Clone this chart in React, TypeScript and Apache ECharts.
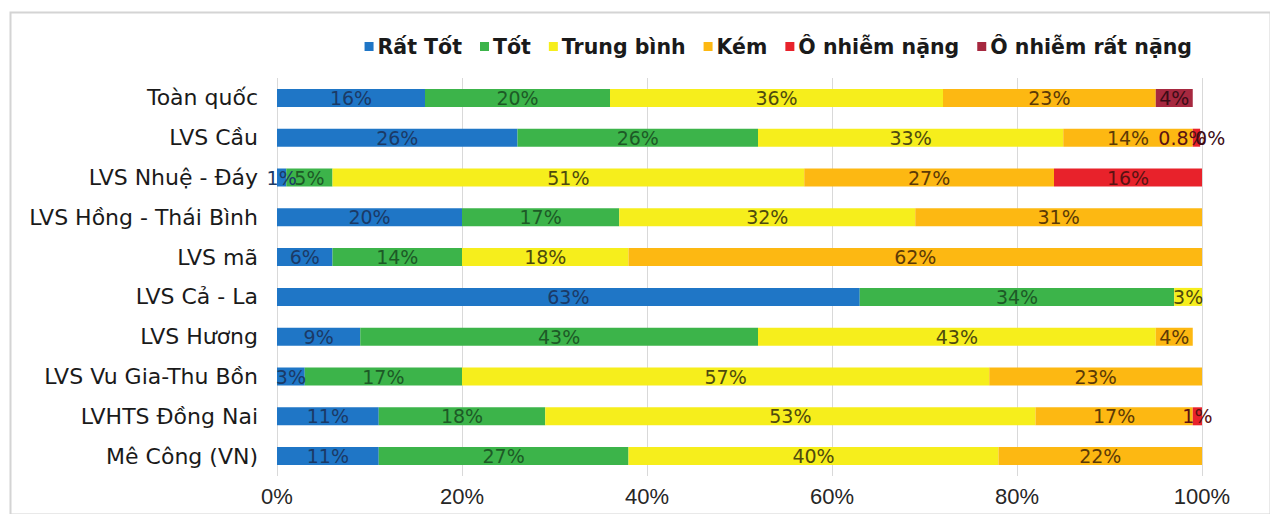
import React, { useEffect, useRef } from "react";
import * as echarts from "echarts";

const categories = [
  "Toàn quốc",
  "LVS Cầu",
  "LVS Nhuệ - Đáy",
  "LVS Hồng - Thái Bình",
  "LVS mã",
  "LVS Cả - La",
  "LVS Hương",
  "LVS Vu Gia-Thu Bồn",
  "LVHTS Đồng Nai",
  "Mê Công (VN)",
];

const seriesNames = ["Rất Tốt", "Tốt", "Trung bình", "Kém", "Ô nhiễm nặng", "Ô nhiễm rất nặng"];

const ratTot = [16, 26, 1, 20, 6, 63, 9, 3, 11, 11];
const tot = [20, 26, 5, 17, 14, 34, 43, 17, 18, 27];
const trungBinh = [36, 33, 51, 32, 18, 3, 43, 57, 53, 40];
const kem = [23, 14, 27, 31, 62, null, 4, 23, 17, 22];
const oNhiemNang = [null, 0.8, 16, null, null, null, null, null, 1, null];
const oNhiemRatNang = [4, 0, null, null, null, null, null, null, null, null];

const xTicks = [0, 20, 40, 60, 80, 100];

const colors = ["#1f76c6", "#3cb44a", "#f6ee1c", "#fdb812", "#e8222b", "#a6283f"];
const labelColors = ["#1b3a66", "#1d5a26", "#4e4a0e", "#5c3a06", "#5a1212", "#3c0c16"];

export default function App() {
  const ref = useRef<HTMLDivElement>(null);
  useEffect(() => {
    if (!ref.current) return;
    const chart = echarts.init(ref.current, null, { renderer: "svg" });
    const values = [ratTot, tot, trungBinh, kem, oNhiemNang, oNhiemRatNang];
    // tiny segments of "LVS Cầu" (row 1): labels nudged like in the source
    const nudge = (si: number, ri: number) => {
      if (ri === 1 && si === 4) return [-14, 0];
      if (ri === 1 && si === 5) return [10, 0];
      return null;
    };
    chart.setOption({
      animation: false,
      backgroundColor: "#ffffff",
      color: colors,
      legend: {
        right: 73,
        top: 31,
        icon: "rect",
        itemWidth: 9,
        itemHeight: 9,
        itemGap: 18,
        textStyle: {
          fontFamily: "DejaVu Sans",
          fontWeight: "bold",
          fontSize: 20.5,
          color: "#1a1a1a",
          padding: [0, 0, 0, -1],
        },
        data: seriesNames,
      },
      grid: { left: 277, right: 68, top: 78, bottom: 38, containLabel: false },
      xAxis: {
        type: "value",
        min: xTicks[0],
        max: xTicks[xTicks.length - 1],
        interval: 20,
        axisLine: { show: false },
        axisTick: { show: false },
        axisLabel: {
          formatter: "{value}%",
          fontFamily: "Liberation Sans",
          fontSize: 22,
          color: "#262626",
          margin: 9,
        },
        splitLine: { show: true, lineStyle: { color: "#d9d9d9", width: 1 } },
      },
      yAxis: {
        type: "category",
        inverse: true,
        data: categories,
        axisLine: { show: false },
        axisTick: { show: false },
        axisLabel: {
          fontFamily: "DejaVu Sans",
          fontSize: 22,
          color: "#1a1a1a",
          margin: 19,
        },
      },
      series: seriesNames.map((name, i) => ({
        name,
        type: "bar",
        stack: "total",
        barWidth: 18,
        data: values[i].map((v, j) => {
          const off = nudge(i, j);
          return off ? { value: v, label: { offset: off } } : v;
        }),
        itemStyle: { color: colors[i] },
        label: {
          show: true,
          position: "inside",
          formatter: (p: any) => (p.value === null || p.value === undefined ? "" : p.value + "%"),
          fontFamily: "DejaVu Sans",
          fontSize: 19,
          color: labelColors[i],
        },
      })),
      graphic: [
        {
          type: "rect",
          left: 8,
          top: 10,
          shape: { width: 1260, height: 502 },
          style: { fill: "none", stroke: "#d4d4d4", lineWidth: 2 },
          silent: true,
          z: -10,
        },
      ],
    });
    return () => chart.dispose();
  }, []);
  return (
    <div
      ref={ref}
      style={{ position: "fixed", left: 0, top: 0, width: 1270, height: 514 }}
    />
  );
}
